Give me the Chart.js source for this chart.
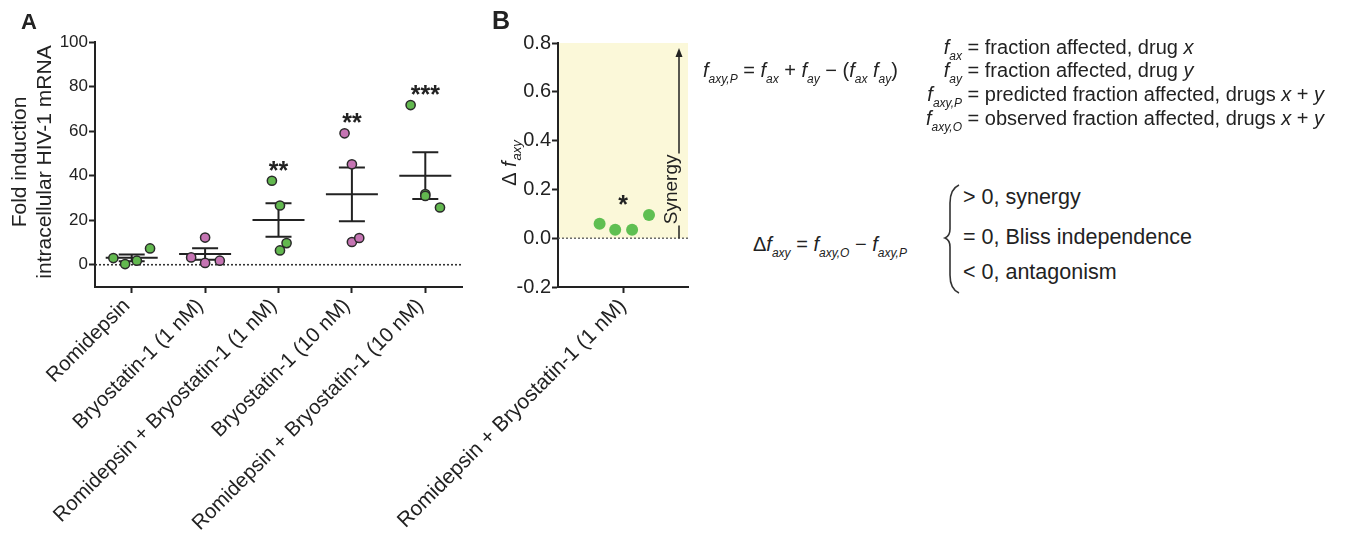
<!DOCTYPE html>
<html>
<head>
<meta charset="utf-8">
<script src="https://cdn.jsdelivr.net/npm/chart.js@4.4.1/dist/chart.umd.min.js"></script>
<style>
  body { margin: 0; background: #fff; }
  #page { position: relative; width: 1369px; height: 536px; overflow: hidden; font-family: "Liberation Sans", Arial, Helvetica, sans-serif; color: #222; }
  .box { position: absolute; top: 0; height: 536px; }
  .panel { position: absolute; font-weight: bold; font-size: 22px; line-height: 22px; }
  .eq { position: absolute; font-size: 20px; line-height: 20px; white-space: nowrap; }
  .eq.big { font-size: 21.5px; line-height: 21.5px; }
  .eq i { font-style: italic; }
  .eq sub { font-size: 12px; font-style: italic; vertical-align: baseline; position: relative; top: 6px; }
  .lhs { display: inline-block; width: 70px; text-align: right; }
</style>
</head>
<body>
<div id="page">
  <div class="box" style="left:0; width:480px;"><canvas id="chartA"></canvas></div>
  <div class="box" style="left:380px; width:330px;"><canvas id="chartB"></canvas></div>

  <div class="panel" style="left:21px; top:11px;">A</div>
  <div class="panel" style="left:492px; top:8px; font-size:25px; line-height:25px;">B</div>

  <div class="eq" style="left:703px; top:60px;"><i>f</i><sub>axy,P</sub> = <i>f</i><sub>ax</sub> + <i>f</i><sub>ay</sub> − (<i>f</i><sub>ax</sub> <i>f</i><sub>ay</sub>)</div>

  <div class="eq" style="left:892px; top:37px;"><span class="lhs"><i>f</i><sub>ax</sub></span> = fraction affected, drug <i>x</i></div>
  <div class="eq" style="left:892px; top:60px;"><span class="lhs"><i>f</i><sub>ay</sub></span> = fraction affected, drug <i>y</i></div>
  <div class="eq" style="left:892px; top:84px;"><span class="lhs"><i>f</i><sub>axy,P</sub></span> = predicted fraction affected, drugs <i>x</i> + <i>y</i></div>
  <div class="eq" style="left:892px; top:108px;"><span class="lhs"><i>f</i><sub>axy,O</sub></span> = observed fraction affected, drugs <i>x</i> + <i>y</i></div>

  <div class="eq" style="left:753px; top:234px;">Δ<i>f</i><sub>axy</sub> = <i>f</i><sub>axy,O</sub> − <i>f</i><sub>axy,P</sub></div>
  <svg style="position:absolute; left:939px; top:183px;" width="26" height="112">
    <path d="M 20 2 Q 11 6 11 20 L 11 46 Q 11 53 6 55 Q 11 57 11 64 L 11 92 Q 11 106 20 110" fill="none" stroke="#333" stroke-width="1.6"/>
  </svg>
  <div class="eq big" style="left:963px; top:187px;">&gt; 0, synergy</div>
  <div class="eq big" style="left:963px; top:227px;">= 0, Bliss independence</div>
  <div class="eq big" style="left:963px; top:262px;">&lt; 0, antagonism</div>
</div>

<script>
// Panel A: fold induction of intracellular HIV-1 mRNA
const groupsA = ['Romidepsin', 'Bryostatin-1 (1 nM)', 'Romidepsin + Bryostatin-1 (1 nM)', 'Bryostatin-1 (10 nM)', 'Romidepsin + Bryostatin-1 (10 nM)'];
const valuesA = [
  [3.0, 0.3, 1.8, 7.3],
  [3.3, 12.2, 0.8, 1.8],
  [37.7, 26.6, 6.4, 9.7],
  [59.0, 45.1, 10.2, 12.0],
  [71.7, 31.7, 30.9, 25.7]
];
// horizontal scatter of the dots, in category units
const jitterA = [
  [-0.25, -0.09, 0.07, 0.25],
  [-0.19, 0, 0, 0.2],
  [-0.09, 0.02, 0.02, 0.11],
  [-0.1, 0, 0, 0.1],
  [-0.2, 0, 0, 0.2]
];
const meanA = [3.1, 4.8, 20.1, 31.6, 40.0];
const semA = [1.5, 2.6, 7.5, 12.1, 10.5];
const starsA = ['', '', '**', '**', '***'];
const colorsA = ['#62b84f', '#c574b3', '#62b84f', '#c574b3', '#62b84f'];
const ticksA = [0, 20, 40, 60, 80, 100];

// Panel B: delta f_axy (Bliss)
const groupsB = ['Romidepsin + Bryostatin-1 (1 nM)'];
const valuesB = [0.059, 0.035, 0.035, 0.095];
const jitterB = [-0.18, -0.06, 0.07, 0.2];
const starsB = ['*'];
const ticksB = [-0.2, 0, 0.2, 0.4, 0.6, 0.8];

const INK = '#222';
Chart.defaults.font.family = '"Liberation Sans", Arial, Helvetica, sans-serif';
Chart.defaults.color = INK;

function drawStars(chart, stars, tops) {
  const ctx = chart.ctx, xs = chart.scales.x, ys = chart.scales.y;
  ctx.save();
  ctx.fillStyle = INK;
  ctx.font = 'bold 25px "Liberation Sans", Arial, sans-serif';
  ctx.textAlign = 'center';
  ctx.textBaseline = 'alphabetic';
  stars.forEach((s, i) => {
    if (!s) return;
    const y = ys.getPixelForValue(tops[i]) - 16;
    ctx.fillText(s, xs.getPixelForValue(i), y + 14);
  });
  ctx.restore();
}

function zeroLine(chart, color, width) {
  const ctx = chart.ctx, a = chart.chartArea, y = chart.scales.y.getPixelForValue(0);
  ctx.save();
  ctx.strokeStyle = color;
  ctx.lineWidth = width;
  ctx.setLineDash([2, 2]);
  ctx.beginPath();
  ctx.moveTo(a.left, y);
  ctx.lineTo(a.right, y);
  ctx.stroke();
  ctx.restore();
}

const panelAPlugin = {
  id: 'panelA',
  beforeDatasetsDraw(chart) {
    zeroLine(chart, '#333', 1.6);
    const ctx = chart.ctx, xs = chart.scales.x, ys = chart.scales.y;
    ctx.save();
    ctx.strokeStyle = INK;
    ctx.lineWidth = 2;
    meanA.forEach((m, i) => {
      const x = xs.getPixelForValue(i);
      const yM = ys.getPixelForValue(m);
      const yHi = ys.getPixelForValue(m + semA[i]);
      const yLo = ys.getPixelForValue(m - semA[i]);
      ctx.beginPath();
      ctx.moveTo(x - 26, yM); ctx.lineTo(x + 26, yM);
      ctx.moveTo(x, yHi); ctx.lineTo(x, yLo);
      ctx.moveTo(x - 13, yHi); ctx.lineTo(x + 13, yHi);
      ctx.moveTo(x - 13, yLo); ctx.lineTo(x + 13, yLo);
      ctx.stroke();
    });
    ctx.restore();
  },
  afterDatasetsDraw(chart) {
    drawStars(chart, starsA, valuesA.map(v => Math.max(...v)));
  },
  afterDraw(chart) {
    const ctx = chart.ctx;
    ctx.save();
    ctx.fillStyle = INK;
    ctx.font = '21px "Liberation Sans", Arial, sans-serif';
    ctx.textAlign = 'center';
    ctx.textBaseline = 'middle';
    ctx.translate(0, 162);
    ctx.rotate(-Math.PI / 2);
    ctx.fillText('Fold induction', 0, 20);
    ctx.fillText('intracellular HIV-1 mRNA', 0, 45);
    ctx.restore();
  }
};

const panelBPlugin = {
  id: 'panelB',
  beforeDraw(chart) {
    const ctx = chart.ctx, a = chart.chartArea, ys = chart.scales.y;
    const top = ys.getPixelForValue(ticksB[ticksB.length - 1]);
    const bottom = ys.getPixelForValue(0);
    ctx.save();
    ctx.fillStyle = '#fbf8d9';
    ctx.fillRect(a.left, top, a.right - a.left, bottom - top);
    ctx.restore();
  },
  beforeDatasetsDraw(chart) {
    zeroLine(chart, '#555', 1.3);
  },
  afterDatasetsDraw(chart) {
    drawStars(chart, starsB, [Math.max(...valuesB)]);
    // Synergy arrow
    const ctx = chart.ctx, a = chart.chartArea, ys = chart.scales.y;
    const x = a.right - 9;
    const y0 = ys.getPixelForValue(0);
    const yTip = ys.getPixelForValue(ticksB[ticksB.length - 1]) + 5;
    const yText = ys.getPixelForValue(0.2);
    ctx.save();
    ctx.strokeStyle = INK;
    ctx.fillStyle = INK;
    ctx.lineWidth = 1.5;
    ctx.beginPath();
    ctx.moveTo(x, y0); ctx.lineTo(x, yText + 36);
    ctx.moveTo(x, yText - 36); ctx.lineTo(x, yTip + 6);
    ctx.stroke();
    ctx.beginPath();
    ctx.moveTo(x, yTip); ctx.lineTo(x - 3.5, yTip + 9); ctx.lineTo(x + 3.5, yTip + 9);
    ctx.closePath();
    ctx.fill();
    ctx.font = '19px "Liberation Sans", Arial, sans-serif';
    ctx.textAlign = 'center';
    ctx.textBaseline = 'middle';
    ctx.translate(x - 7, yText);
    ctx.rotate(-Math.PI / 2);
    ctx.fillText('Synergy', 0, 0);
    ctx.restore();
  },
  afterDraw(chart) {
    // y title: Δ f_axy
    const ctx = chart.ctx;
    const main = '20px "Liberation Sans", Arial, sans-serif';
    const ital = 'italic 20px "Liberation Sans", Arial, sans-serif';
    const sub = 'italic 13px "Liberation Sans", Arial, sans-serif';
    ctx.save();
    ctx.fillStyle = INK;
    ctx.textBaseline = 'middle';
    ctx.translate(130, 163);
    ctx.rotate(-Math.PI / 2);
    ctx.font = main; const w1 = ctx.measureText('Δ ').width;
    ctx.font = ital; const w2 = ctx.measureText('f').width + 1;
    ctx.font = sub; const w3 = ctx.measureText('axy').width;
    let cx = -(w1 + w2 + w3) / 2;
    ctx.font = main; ctx.fillText('Δ ', cx, 0); cx += w1;
    ctx.font = ital; ctx.fillText('f', cx, 0); cx += w2;
    ctx.font = sub; ctx.fillText('axy', cx, 7);
    ctx.restore();
  }
};

function axisX(labels, height, fontSize, shift) {
  return {
    type: 'linear',
    min: -0.5,
    max: labels.length - 0.5,
    afterBuildTicks: s => { s.ticks = labels.map((l, i) => ({ value: i })); },
    afterFit: s => { s.height = height; s.paddingLeft = 0; s.paddingRight = 0; },
    grid: { drawOnChartArea: false, tickLength: 6, tickWidth: 2, tickColor: INK },
    border: { color: INK, width: 2 },
    ticks: { autoSkip: false, minRotation: 45, maxRotation: 45, padding: 1, labelOffset: shift, color: INK, font: { size: fontSize }, callback: v => labels[v] }
  };
}

function axisY(min, max, ticks, width, fontSize, fmt) {
  return {
    min: min,
    max: max,
    afterBuildTicks: s => { s.ticks = ticks.map(v => ({ value: v })); },
    afterFit: s => { s.width = width; s.paddingTop = 0; s.paddingBottom = 0; },
    grid: { drawOnChartArea: false, tickLength: 6, tickWidth: 2, tickColor: INK },
    border: { color: INK, width: 2 },
    ticks: { padding: 1, color: INK, font: { size: fontSize }, callback: fmt }
  };
}

new Chart(document.getElementById('chartA'), {
  type: 'scatter',
  data: {
    datasets: valuesA.map((vals, i) => ({
      data: vals.map((v, j) => ({ x: i + jitterA[i][j], y: v })),
      backgroundColor: colorsA[i],
      borderColor: '#2a2a2a',
      borderWidth: 1.5,
      pointRadius: 4.6
    }))
  },
  options: {
    responsive: true,
    maintainAspectRatio: false,
    animation: false,
    layout: { padding: { top: 42, right: 18, left: 0, bottom: 0 } },
    plugins: { legend: { display: false }, tooltip: { enabled: false } },
    scales: {
      x: axisX(groupsA, 249, 20.5, -5),
      y: axisY(-10, 100, ticksA, 95, 17, v => v)
    }
  },
  plugins: [panelAPlugin]
});

new Chart(document.getElementById('chartB'), {
  type: 'scatter',
  data: {
    datasets: [{
      data: valuesB.map((v, j) => ({ x: jitterB[j], y: v })),
      backgroundColor: '#5fbf52',
      borderWidth: 0,
      pointRadius: 6
    }]
  },
  options: {
    responsive: true,
    maintainAspectRatio: false,
    animation: false,
    layout: { padding: { top: 43, right: 22, left: 0, bottom: 0 } },
    plugins: { legend: { display: false }, tooltip: { enabled: false } },
    scales: {
      x: axisX(groupsB, 249, 21, 0),
      y: axisY(-0.2, 0.8, ticksB, 178, 20, v => v.toFixed(1))
    }
  },
  plugins: [panelBPlugin]
});
</script>
</body>
</html>
